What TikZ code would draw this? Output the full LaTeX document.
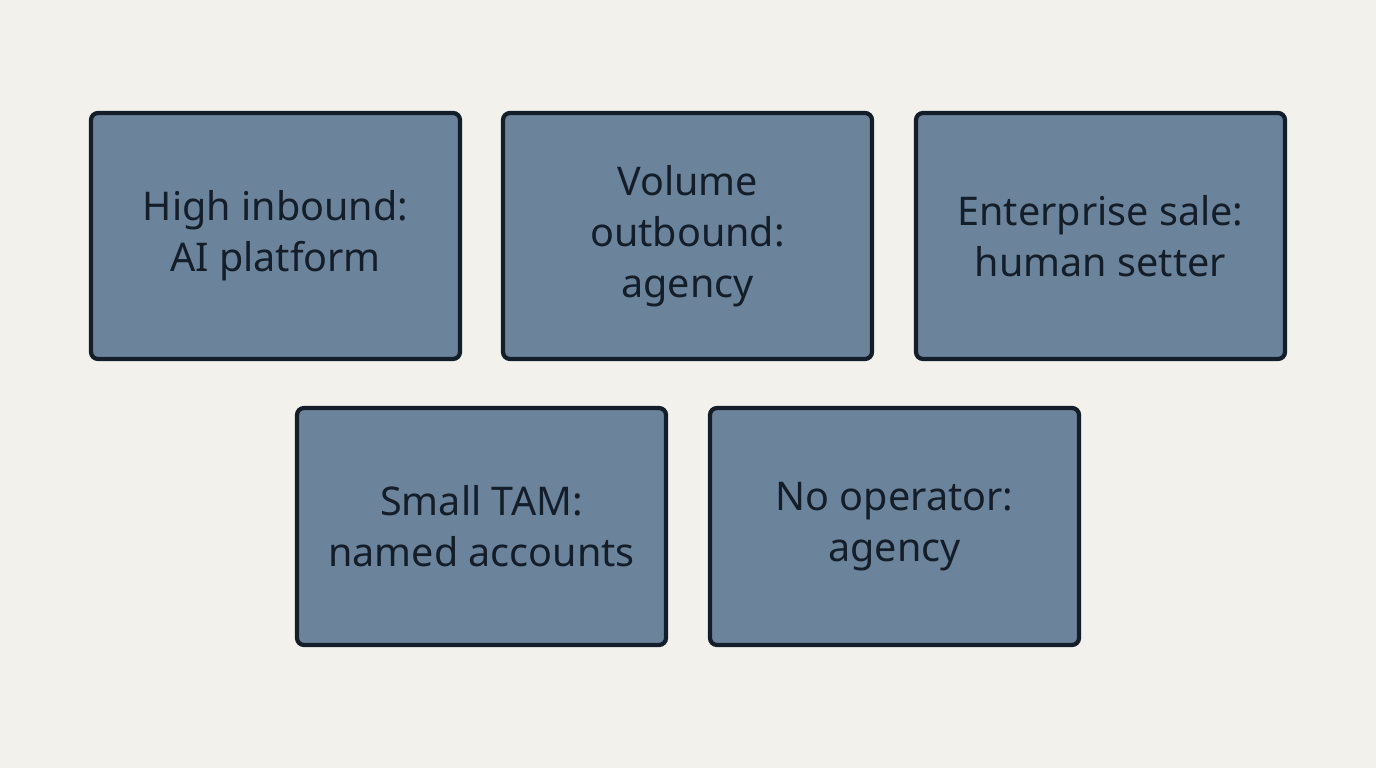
\documentclass[tikz,border=0pt]{standalone}
\usepackage{fontspec}
\setmainfont{Noto Sans}
\usetikzlibrary{positioning}
\definecolor{paper}{HTML}{F3F1EC}
\definecolor{slate}{HTML}{6C849B}
\definecolor{ink}{HTML}{141E2A}
\tikzset{
  card/.style={draw=ink,fill=slate,line width=2.4pt,rounded corners=4pt,
    minimum width=7.38cm,align=center,text=ink,
    font=\fontsize{22.5}{29}\selectfont},
  top card/.style={card,minimum height=4.92cm},
  low card/.style={card,minimum height=4.74cm}
}
\begin{document}
\begin{tikzpicture}
        \fill[paper] (0,0) rectangle (27.52,15.36);
        \useasboundingbox (0,0) rectangle (27.52,15.36);
        % upper row
        \node[top card] (inbound) at (5.51,10.64) {High inbound:\\AI platform};
        \node[top card] (outbound) at (13.75,10.64) {Volume\\outbound:\\agency};
        \node[top card] (enterprise) at (22.01,10.64) {Enterprise sale:\\human setter};
        % lower row
        \node[low card] (smalltam) at (9.63,4.83) {Small TAM:\\named accounts};
        \node[low card] (nooperator) at (17.89,4.83) {No operator:\\agency};
      \end{tikzpicture}
\end{document}
